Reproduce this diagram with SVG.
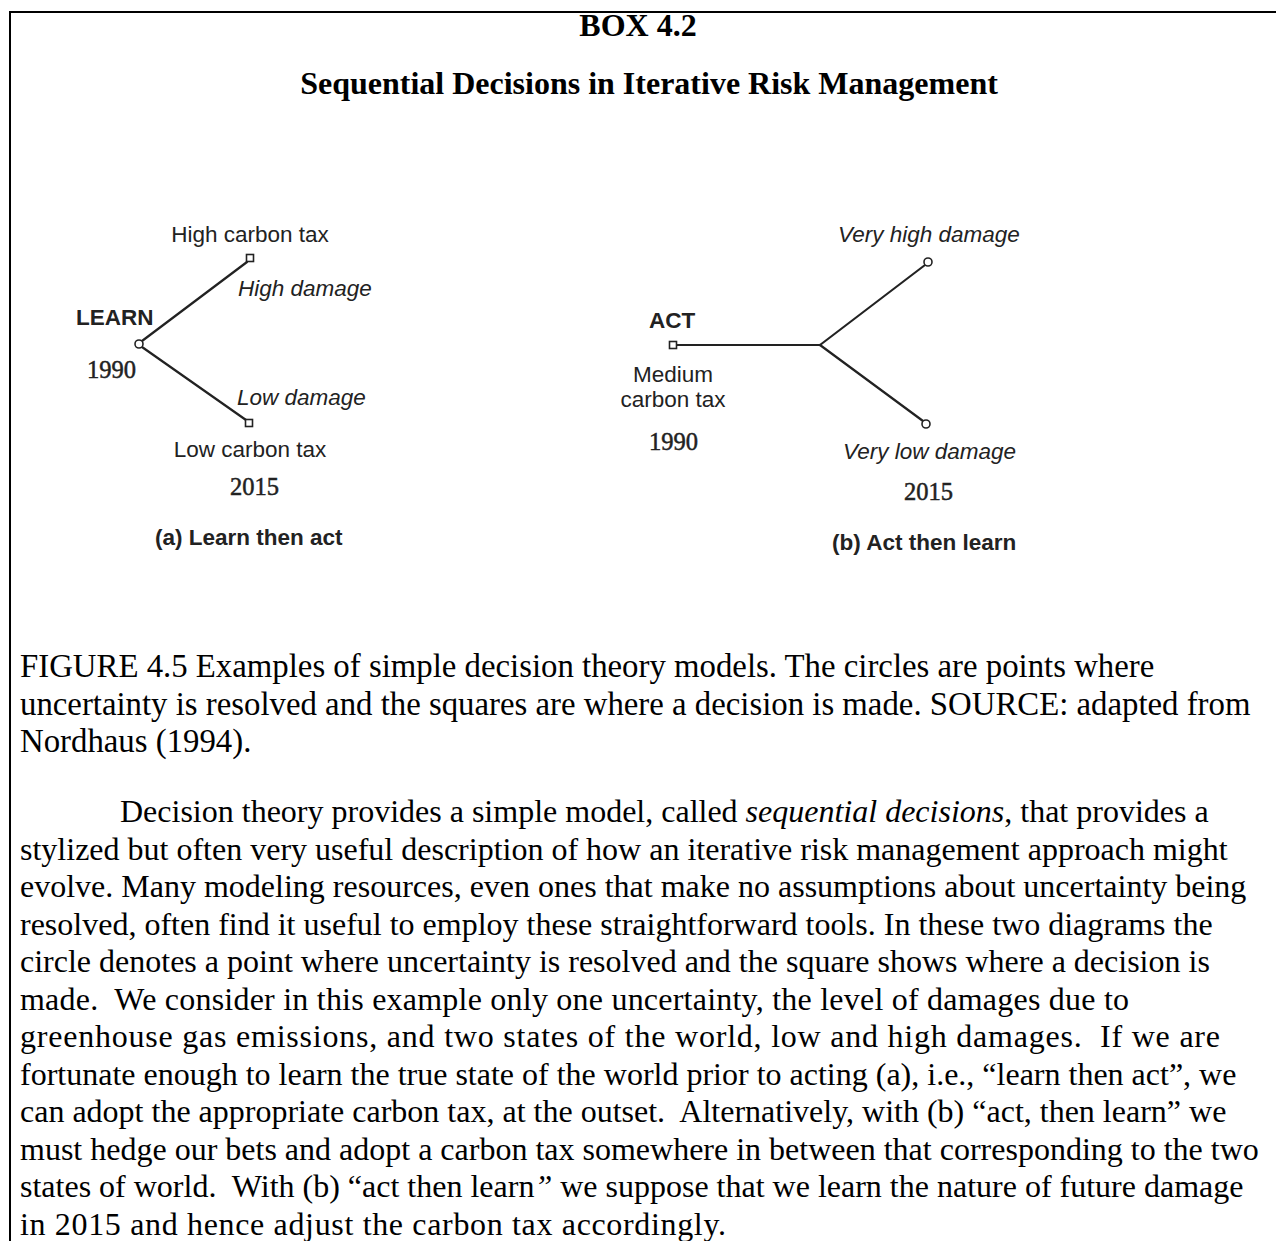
<svg xmlns="http://www.w3.org/2000/svg" width="1276" height="1241" viewBox="0 0 1276 1241">
  <style>
    .serif { font-family: "Liberation Serif", "Times New Roman", serif; fill: #000; }
    .head { font-size: 32px; font-weight: bold; text-anchor: middle; }
    .cap { font-size: 32.8px; }
    .body { font-size: 32px; }
    .sans { font-family: "Liberation Sans", Arial, sans-serif; fill: #222; font-size: 22.5px; }
    .b { font-weight: bold; }
    .i { font-style: italic; }
    .yr { font-family: "Liberation Serif", "Times New Roman", serif; font-size: 24.5px; fill: #222; stroke: #222; stroke-width: 0.5; }
    .mid { text-anchor: middle; }
    .edge { stroke: #222; stroke-width: 2.2; fill: none; stroke-linecap: round; }
    .sq { fill: #fff; stroke: #222; stroke-width: 1.6; }
    .ci { fill: #fff; stroke: #222; stroke-width: 1.6; }
    .frame { stroke: #000; stroke-width: 2; fill: none; }
  </style>

  <rect width="1276" height="1241" fill="#fff"/>

  <!-- box frame: top rule and left rule -->
  <path class="frame" d="M10 1241 V12 H1276"/>

  <!-- headings -->
  <text class="serif head" x="638" y="36">BOX 4.2</text>
  <text class="serif head" x="649" y="94">Sequential Decisions in Iterative Risk Management</text>

  <!-- connectors -->
  <g id="connectors">
    <line class="edge" x1="142" y1="341" x2="247" y2="262"/>
    <line class="edge" x1="142" y1="347" x2="246" y2="420"/>
    <line class="edge" x1="677" y1="345" x2="820" y2="345"/>
    <line class="edge" x1="820" y1="345" x2="925" y2="265"/>
    <line class="edge" x1="820" y1="345" x2="923" y2="421"/>
  </g>

  <!-- (a) learn then act -->
  <g id="learn-node">
    <circle class="ci" cx="139" cy="344" r="4"/>
    <text class="sans b" x="76" y="325">LEARN</text>
    <text class="yr" x="87" y="378">1990</text>
  </g>
  <g id="high-tax-node">
    <rect class="sq" x="246.5" y="254.5" width="7" height="7"/>
    <text class="sans mid" x="250" y="242">High carbon tax</text>
    <text class="sans i" x="238" y="296">High damage</text>
  </g>
  <g id="low-tax-node">
    <rect class="sq" x="245.5" y="419.5" width="7" height="7"/>
    <text class="sans i" x="237" y="405">Low damage</text>
    <text class="sans mid" x="250" y="457">Low carbon tax</text>
    <text class="yr" x="230" y="495">2015</text>
  </g>
  <text class="sans b" x="155" y="545">(a) Learn then act</text>

  <!-- (b) act then learn -->
  <g id="act-node">
    <rect class="sq" x="669.5" y="341.5" width="7" height="7"/>
    <text class="sans b" x="649" y="328">ACT</text>
    <text class="sans mid" x="673" y="382">Medium</text>
    <text class="sans mid" x="673" y="407">carbon tax</text>
    <text class="yr" x="649" y="450">1990</text>
  </g>
  <g id="very-high-node">
    <circle class="ci" cx="928" cy="262" r="4"/>
    <text class="sans i" x="838" y="242">Very high damage</text>
  </g>
  <g id="very-low-node">
    <circle class="ci" cx="926" cy="424" r="4"/>
    <text class="sans i" x="843" y="459">Very low damage</text>
    <text class="yr" x="904" y="500">2015</text>
  </g>
  <text class="sans b" x="832" y="550">(b) Act then learn</text>

  <!-- caption -->
  <g class="serif cap">
    <text x="20" y="677">FIGURE 4.5 Examples of simple decision theory models. The circles are points where</text>
    <text x="20" y="714.5">uncertainty is resolved and the squares are where a decision is made. SOURCE: adapted from</text>
    <text x="20" y="752">Nordhaus (1994).</text>
  </g>

  <!-- discussion paragraph -->
  <g class="serif body">
    <text x="120" y="822">Decision theory provides a simple model, called <tspan font-style="italic">sequential decisions</tspan>, that provides a</text>
    <text x="20" y="859.5">stylized but often very useful description of how an iterative risk management approach might</text>
    <text x="20" y="897">evolve. Many modeling resources, even ones that make no assumptions about uncertainty being</text>
    <text x="20" y="934.5">resolved, often find it useful to employ these straightforward tools. In these two diagrams the</text>
    <text x="20" y="972">circle denotes a point where uncertainty is resolved and the square shows where a decision is</text>
    <text x="20" y="1009.5" textLength="1109" lengthAdjust="spacing">made.&#160; We consider in this example only one uncertainty, the level of damages due to</text>
    <text x="20" y="1047" textLength="1200" lengthAdjust="spacing">greenhouse gas emissions, and two states of the world, low and high damages.&#160; If we are</text>
    <text x="20" y="1084.5">fortunate enough to learn the true state of the world prior to acting (a), i.e., “learn then act”, we</text>
    <text x="20" y="1122">can adopt the appropriate carbon tax, at the outset.&#160; Alternatively, with (b) “act, then learn” we</text>
    <text x="20" y="1159.5">must hedge our bets and adopt a carbon tax somewhere in between that corresponding to the two</text>
    <text x="20" y="1197">states of world.&#160; With (b) “act then learn<tspan font-style="italic">”</tspan> we suppose that we learn the nature of future damage</text>
    <text x="20" y="1234.5" textLength="706" lengthAdjust="spacing">in 2015 and hence adjust the carbon tax accordingly.</text>
  </g>
</svg>
